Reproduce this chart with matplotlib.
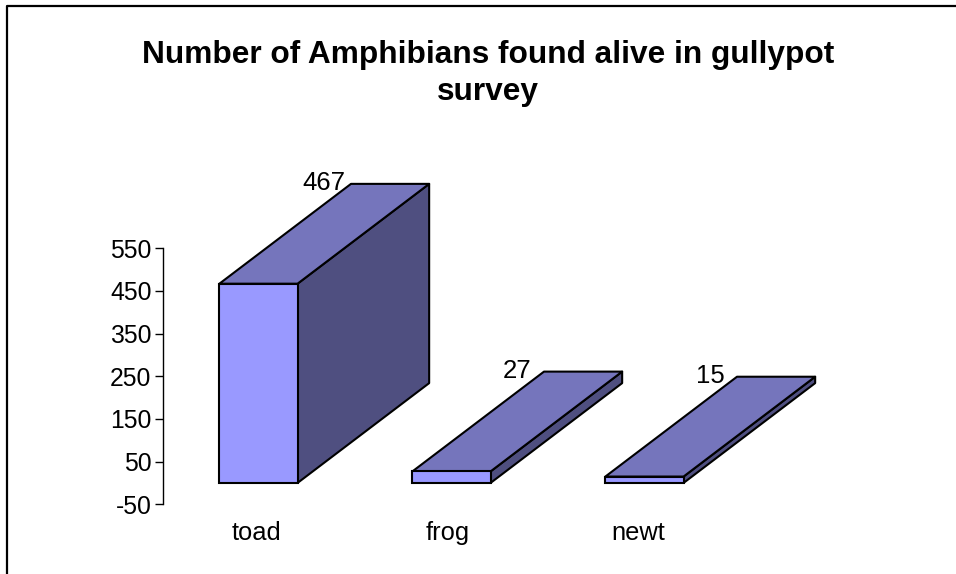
import matplotlib
matplotlib.use("Agg")
import matplotlib.pyplot as plt

species = ["toad", "frog", "newt"]
counts = [467, 27, 15]
y_ticks = [-50, 50, 150, 250, 350, 450, 550]

FRONT = "#9999ff"
TOP = "#7575bc"
SIDE = "#4f4f80"
W, H = 956, 574

plt.rcParams["font.family"] = ["Liberation Sans", "DejaVu Sans"]
plt.rcParams["axes.unicode_minus"] = False

fig = plt.figure(figsize=(W / 100, H / 100), dpi=100)

# chart frame: only the left and top edges fall on the canvas
fig.add_artist(plt.Line2D([7 / W, 7 / W, 1], [0, 1 - 6 / H, 1 - 6 / H],
                          color="black", lw=1.6))

left, right, top, bottom = 163.3, 742.3, 248.3, 504.3
ax = fig.add_axes([left / W, 1 - bottom / H, (right - left) / W, (bottom - top) / H])
ax.set_xlim(-0.493, 2.507)
ax.set_ylim(-50, 550)
ax.patch.set_visible(False)

for s in ["top", "right", "bottom"]:
    ax.spines[s].set_visible(False)
ax.spines["left"].set_linewidth(1.0)

ax.set_yticks(y_ticks)
ax.tick_params(axis="y", labelsize=17.8, length=6, width=1.0, pad=2.5)
ax.set_xticks([])
for lab in ax.get_yticklabels():
    lab.set_y(lab.get_position()[1])

# depth of the oblique boxes, in axis units
bar_w = 0.405
dx = 0.682
dy = 234

for i, v in enumerate(counts):
    x0 = i - bar_w / 2
    x1 = i + bar_w / 2
    ax.fill([x1, x1 + dx, x1 + dx, x1], [0, dy, v + dy, v], facecolor=SIDE,
            edgecolor="black", lw=1.5, clip_on=False, joinstyle="round")
    ax.fill([x0, x1, x1 + dx, x0 + dx], [v, v, v + dy, v + dy], facecolor=TOP,
            edgecolor="black", lw=1.5, clip_on=False, joinstyle="round")
    ax.bar(i, v, width=bar_w, color=FRONT, edgecolor="black", lw=1.5, clip_on=False)
    ax.text(i + dx / 2, v + dy + 1, str(v), ha="center", va="center", fontsize=18.5)
    # category names sit on a slightly tighter spacing than the boxes
    ax.text(i * 0.988 - 0.008, -118, species[i], ha="center", va="center",
            fontsize=18.4, clip_on=False)

fig.text(488 / W, 1 - 73.5 / H, "Number of Amphibians found alive in gullypot\nsurvey",
         ha="center", va="center", fontsize=22.8, fontweight="bold", linespacing=1.3)

fig.savefig("out.png", dpi=100)
